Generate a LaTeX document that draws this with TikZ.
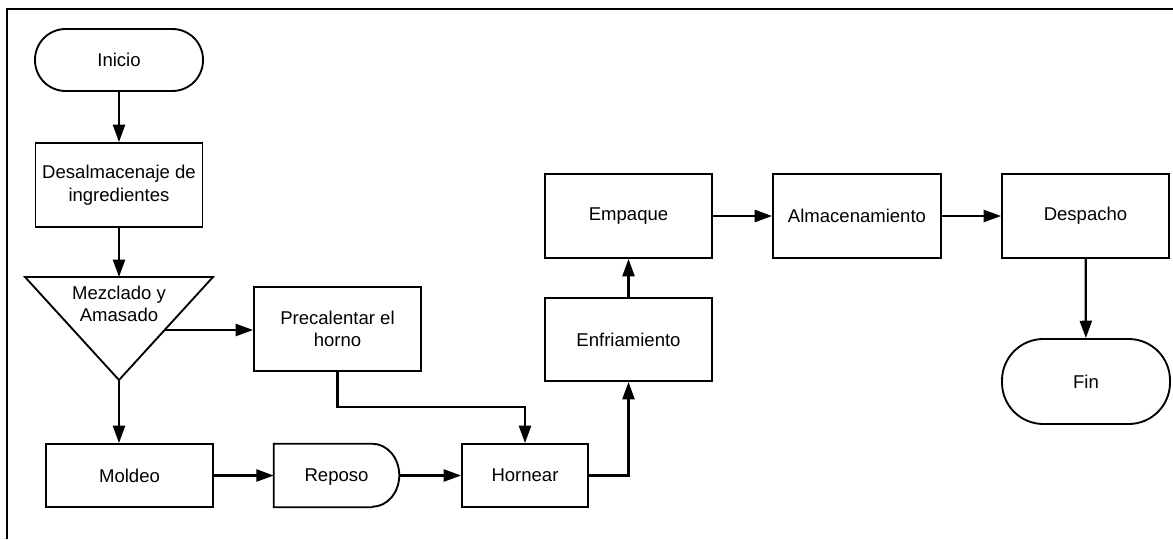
\documentclass[tikz,border=0pt]{standalone}
\usepackage{fontspec}
\setmainfont{Liberation Sans}
\usetikzlibrary{arrows.meta,calc}
\begin{document}
\begin{tikzpicture}[x=0.75pt,y=-0.75pt,
  txt/.style={align=center,font=\fontsize{13.9}{17}\selectfont,inner sep=1pt},
  box/.style={txt,draw,line width=1.4pt},
  term/.style={box},
  arr/.style={line width=1.7pt,-{Triangle[length=13pt,width=9pt]}},
  outline/.style={line width=1.4pt},
  frame/.style={line width=1.8pt}]
\useasboundingbox (0,0) rectangle (1173,539);
\draw[frame] (7,539) -- (7,9) -- (1173,9);

% nodes
\node[term,rounded corners=23pt,minimum width=126pt,minimum height=46.5pt] (inicio) at (119,60) {Inicio};
\node[box,minimum width=125.25pt,minimum height=63pt] (desal) at (119,185) {Desalmacenaje de\\ingredientes};

\draw[outline] (25,277) -- (213,277) -- (119,380) -- cycle;
\coordinate (mtop) at (119,277);
\coordinate (mapex) at (119,380);
\coordinate (mright) at (164.6,330);
\node[txt] (mez) at (119,304) {Mezclado y\\Amasado};

\node[box,minimum width=125.25pt,minimum height=63pt] (precal) at (337.5,329) {Precalentar el\\horno};
\node[box,minimum width=125.25pt,minimum height=47.25pt] (moldeo) at (129.5,475.5) {Moldeo};
\node[txt,minimum width=93.75pt,minimum height=47.25pt,inner sep=0pt,text depth=0pt] (reposo) at (336.5,475.5) {Reposo};
\draw[outline] ($(reposo.south east)+(-27,0)$) -- (reposo.south west) -- (reposo.north west) -- ($(reposo.north east)+(-27,0)$)
  arc[start angle=90,end angle=-90,x radius=20.25pt,y radius=23.625pt];
\node[box,minimum width=94.5pt,minimum height=47.25pt] (hornear) at (525,475.5) {Hornear};
\node[box,minimum width=125.25pt,minimum height=62.25pt] (enfri) at (628.5,339.5) {Enfriamiento};
\node[box,minimum width=125.25pt,minimum height=63pt] (empaque) at (628.5,216) {Empaque};
\node[box,minimum width=126pt,minimum height=63pt] (almac) at (857,216) {Almacenamiento};
\node[box,minimum width=125.25pt,minimum height=63pt] (despacho) at (1085.5,216) {Despacho};
\node[term,rounded corners=31pt,minimum width=126pt,minimum height=63.75pt] (fin) at (1086,381.5) {Fin};
\coordinate (bend) at (525,407);

% connectors
\draw[arr] (inicio) -- (desal);
\draw[arr] (desal) -- (mtop);
\draw[arr] (mright) -- (mright -| precal.west);
\draw[arr] (mapex) -- (mapex |- moldeo.north);
\draw[arr] (precal.south) |- (bend) -- (hornear.north);
\draw[arr] (moldeo) -- (reposo);
\draw[arr] (reposo) -- (hornear);
\draw[arr] (hornear.east) -| (enfri.south);
\draw[arr] (enfri) -- (empaque);
\draw[arr] (empaque) -- (almac);
\draw[arr] (almac) -- (despacho);
\draw[arr] (despacho) -- (fin);
\end{tikzpicture}
\end{document}
